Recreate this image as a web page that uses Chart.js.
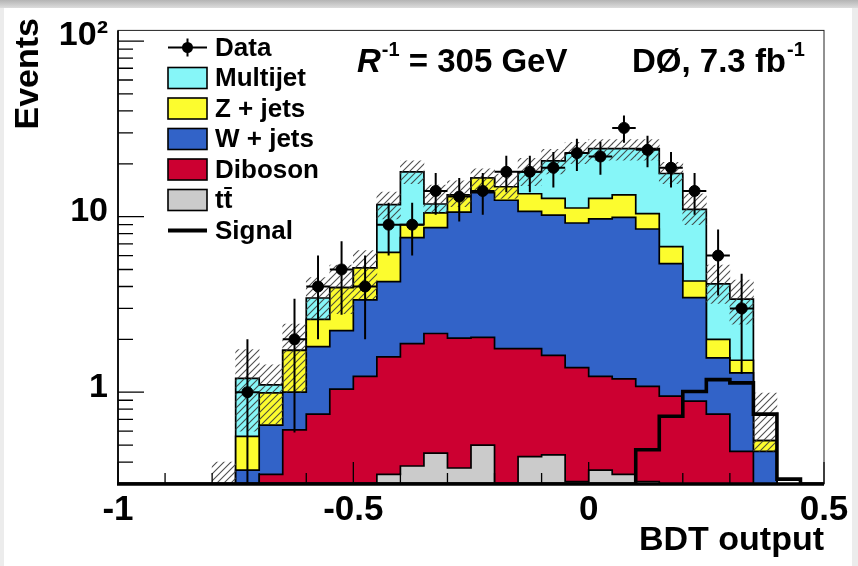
<!DOCTYPE html>
<html>
<head>
<meta charset="utf-8">
<title>BDT output</title>
<script src="https://cdn.jsdelivr.net/npm/chart.js@4.4.1/dist/chart.umd.min.js"></script>
<style>
  body { margin: 0; background: #fff; }
  canvas { display: block; }
</style>
</head>
<body>
<canvas id="myChart" width="858" height="566"></canvas>
<script>
// 30 bins of 0.05 between -1 and 0.5
const binLow = -1
const binWidth = 0.05
const nBins = 30

const ttbar    = [0,0,0,0,0, 0,0,0,0,0, 0,0.34,0.38,0.45,0.37, 0.50,0,0.43,0.44,0.31, 0.36,0.34,0.31,0,0, 0,0,0,0,0]
const diboson  = [0,0,0,0,0, 0,0.34,0.61,0.75,1.04, 1.23,1.25,1.51,1.71,1.66, 1.55,1.77,1.34,1.18,1.07, 0.87,0.85,0.77,0.95,0.89, 0.75,0.46,0,0,0]
const wjets    = [0,0,0,0,0, 0.36,0.31,0.39,1.07,1.20, 2.13,2.67,5.71,6.49,8.57, 11.65,10.63,8.93,8.58,7.82, 8.47,8.71,7.42,4.45,2.57, 0.82,0.83,0.46,0,0]
const zjets    = [0,0,0,0,0, 0.20,0.34,0.73,0.78,1.70, 1.74,1.99,1.40,1.85,2.70, 2.90,2.40,2.80,2.50,2.00, 3.00,3.40,1.90,1.35,0.84, 0.43,0.23,0.07,0,0]
const multijet = [0,0,0,0,0, 0.64,0.11,0,0.84,0, 0,5.45,9.0,1.3,0, 0,0,4.5,8.1,11.8, 11.7,11.1,14.0,10.85,6.7, 2.14,1.87,0,0,0]
const signal   = [0,0,0,0,0, 0,0,0,0,0, 0,0,0,0,0, 0,0,0,0,0, 0,0,0.47,0.73,1.01, 1.18,1.13,0.75,0.32,0]

const dataCounts = [0,0,0,0,0, 1,0,2,4,5, 4,9,9,14,13, 14,18,18,19,23, 22,32,24,19,14, 6,3,0,0,0]
const dataErr    = [0,0,0,0,0, 1,0,1.41,2,2.24, 2,3,3,3.74,3.61, 3.74,4.24,4.24,4.36,4.8, 4.69,5.66,4.9,4.36,3.74, 2.45,1.73,0,0,0]

// MC uncertainty band (low, high), null where none
const mcLow  = [null,null,null,null,0.2, 0.6,0.66,1.0,2.6,2.8, 3.4,9.7,15.4,10.5,11.4, 14.1,12.7,15,17.5,20, 21,21,21,15.4,9, 3.2,2.44,0.46,null,null]
const mcHigh = [null,null,null,null,0.4, 1.75,1.43,2.44,4.5,5.3, 6.4,13.8,20.8,15.1,16.0, 18.7,17.5,21.5,24.2,26.5, 27.5,27.5,27.5,20.4,13.5, 5.3,4.35,0.99,null,null]

const xTicks = [-1, -0.5, 0, 0.5]
const xTickLabels = ['-1', '-0.5', '0', '0.5']
const yTicks = [1, 10, 100]
const yTickLabels = ['1', '10', '10²']
const yMin = 0.3
const yMax = 115

const legendLabels = ['Data', 'Multijet', 'Z + jets', 'W + jets', 'Diboson', 'tt', 'Signal']

const colors = {
  multijet: '#86f6f8',
  zjets: '#fcfc2e',
  wjets: '#3263c8',
  diboson: '#cc0031',
  ttbar: '#cbcbcb'
}

const fontFam = "'Liberation Sans', Arial, sans-serif"
Chart.defaults.font.family = fontFam
Chart.defaults.color = '#000'

function binCenter(i) {
  return binLow + binWidth * (i + 0.5)
}

// points on the bin edges for a stepped outline, last value repeated on the right edge
function stepPoints(values) {
  let pts = []
  values.forEach((v, i) => {
    pts.push({ x: binLow + binWidth * i, y: Math.max(v, yMin) })
  })
  pts.push({ x: binLow + binWidth * nBins, y: Math.max(values[nBins - 1], yMin) })
  return pts
}

function addUp(a, b) {
  return a.map((v, i) => v + b[i])
}

// cumulative stack, drawn as overlapping filled histograms like ROOT does
const topTT = ttbar
const topDib = addUp(topTT, diboson)
const topW = addUp(topDib, wjets)
const topZ = addUp(topW, zjets)
const topMJ = addUp(topZ, multijet)

function histLayer(label, values, color, order) {
  return {
    type: 'line',
    label: label,
    data: stepPoints(values),
    stepped: 'before',
    backgroundColor: color,
    borderColor: '#000',
    borderWidth: 1.7,
    fill: 'start',
    pointRadius: 0,
    order: order
  }
}

// hatch pattern for the uncertainty band
function hatchPattern() {
  const c = document.createElement('canvas')
  c.width = 7
  c.height = 7
  const g = c.getContext('2d')
  g.strokeStyle = 'rgba(60,60,60,0.9)'
  g.lineWidth = 1.1
  g.beginPath()
  g.moveTo(-1, 8); g.lineTo(8, -1)
  g.moveTo(-1, 1); g.lineTo(1, -1)
  g.moveTo(6, 8); g.lineTo(8, 6)
  g.stroke()
  return g.createPattern(c, 'repeat')
}

let bandData = []
mcLow.forEach((lo, i) => {
  if (lo !== null) bandData.push({ x: binCenter(i), y: [lo, mcHigh[i]] })
})

const frame = {
  id: 'frame',
  beforeDraw(chart) {
    const ctx = chart.ctx
    ctx.save()
    ctx.fillStyle = '#fff'
    ctx.fillRect(0, 0, chart.width, chart.height)
    // grey border of the original figure
    let g = ctx.createLinearGradient(0, 0, 0, 8)
    g.addColorStop(0, '#b4b4b4')
    g.addColorStop(1, '#dcdcdc')
    ctx.fillStyle = g
    ctx.fillRect(0, 0, chart.width, 8)
    ctx.fillStyle = '#ececec'
    ctx.fillRect(0, 8, 4, chart.height)
    ctx.fillRect(chart.width - 6, 8, 6, chart.height)
    ctx.restore()
  },
  afterDatasetsDraw(chart) {
    const { ctx, chartArea: a, scales: { x, y } } = chart
    ctx.save()

    // error bars of the data
    ctx.beginPath()
    ctx.rect(a.left, a.top, a.right - a.left, a.bottom - a.top)
    ctx.clip()
    ctx.strokeStyle = '#000'
    ctx.lineWidth = 2
    dataCounts.forEach((n, i) => {
      if (n <= 0) return
      const px = x.getPixelForValue(binCenter(i))
      const py = y.getPixelForValue(n)
      const lo = n - dataErr[i]
      const pLo = lo > 0 ? y.getPixelForValue(lo) : a.bottom
      const pHi = y.getPixelForValue(n + dataErr[i])
      ctx.beginPath()
      ctx.moveTo(px, pHi)
      ctx.lineTo(px, pLo)
      ctx.moveTo(x.getPixelForValue(binCenter(i) - binWidth / 2), py)
      ctx.lineTo(x.getPixelForValue(binCenter(i) + binWidth / 2), py)
      ctx.stroke()
    })
    ctx.restore()

    ctx.save()
    ctx.strokeStyle = '#000'
    // inward ticks on the y axis
    ctx.lineWidth = 1.3
    ctx.beginPath()
    ;[0.1, 1, 10].forEach(d => {
      for (let k = 2; k <= 9; k++) {
        const v = k * d
        if (v < yMin || v > yMax) continue
        const py = y.getPixelForValue(v)
        ctx.moveTo(a.left, py)
        ctx.lineTo(a.left + 15, py)
      }
    })
    yTicks.forEach(v => {
      const py = y.getPixelForValue(v)
      ctx.moveTo(a.left, py)
      ctx.lineTo(a.left + 26, py)
    })
    // inward ticks on the x axis
    for (let k = -10; k <= 5; k++) {
      const px = x.getPixelForValue(k / 10)
      ctx.moveTo(px, a.bottom)
      ctx.lineTo(px, a.bottom - 11)
    }
    xTicks.forEach(v => {
      const px = x.getPixelForValue(v)
      ctx.moveTo(px, a.bottom)
      ctx.lineTo(px, a.bottom - 22)
    })
    ctx.stroke()

    // frame
    ctx.lineWidth = 1
    ctx.strokeStyle = '#222'
    ctx.strokeRect(a.left, a.top, a.right - a.left, a.bottom - a.top)
    ctx.strokeStyle = '#000'
    ctx.lineWidth = 1.7
    ctx.beginPath()
    ctx.moveTo(a.left, a.top)
    ctx.lineTo(a.left, a.bottom)
    ctx.stroke()
    ctx.lineWidth = 3.5
    ctx.beginPath()
    ctx.moveTo(a.left - 1, a.bottom)
    ctx.lineTo(a.right, a.bottom)
    ctx.stroke()
    ctx.restore()
  }
}

const texts = {
  id: 'texts',
  afterDraw(chart) {
    const ctx = chart.ctx
    ctx.save()
    ctx.fillStyle = '#000'
    ctx.textBaseline = 'alphabetic'

    // header
    const big = 'bold 33px ' + fontFam
    const sup = 'bold 20px ' + fontFam
    let cx = 357
    ctx.font = 'italic bold 33px ' + fontFam
    ctx.fillText('R', cx, 72)
    cx += ctx.measureText('R').width + 1
    ctx.font = sup
    ctx.fillText('-1', cx, 56)
    cx += ctx.measureText('-1').width
    ctx.font = big
    ctx.fillText(' = 305 GeV', cx, 72)

    cx = 632
    ctx.fillText('DØ, 7.3 fb', cx, 72)
    cx += ctx.measureText('DØ, 7.3 fb').width + 1
    ctx.font = sup
    ctx.fillText('-1', cx, 56)

    // y axis title
    ctx.save()
    ctx.font = 'bold 34px ' + fontFam
    ctx.translate(29, 18)
    ctx.rotate(-Math.PI / 2)
    ctx.textAlign = 'right'
    ctx.textBaseline = 'middle'
    ctx.fillText('Events', 0, 0)
    ctx.restore()

    // legend
    const bx = 168, bw = 39, bh = 21, tx = 215
    const boxColors = [null, colors.multijet, colors.zjets, colors.wjets, colors.diboson, colors.ttbar]
    ctx.font = 'bold 26px ' + fontFam
    legendLabels.forEach((label, i) => {
      const cy = 47.5 + i * 30.5
      ctx.strokeStyle = '#000'
      if (i === 0) {
        ctx.lineWidth = 2
        ctx.beginPath()
        ctx.moveTo(bx, cy); ctx.lineTo(bx + bw, cy)
        ctx.moveTo(bx + bw / 2, cy - 9); ctx.lineTo(bx + bw / 2, cy + 9)
        ctx.stroke()
        ctx.beginPath()
        ctx.arc(bx + bw / 2, cy, 5.5, 0, Math.PI * 2)
        ctx.fill()
      } else if (i === legendLabels.length - 1) {
        ctx.lineWidth = 4
        ctx.beginPath()
        ctx.moveTo(bx, cy); ctx.lineTo(bx + bw, cy)
        ctx.stroke()
      } else {
        ctx.fillStyle = boxColors[i]
        ctx.fillRect(bx, cy - bh / 2, bw, bh)
        ctx.lineWidth = 1.6
        ctx.strokeRect(bx, cy - bh / 2, bw, bh)
        ctx.fillStyle = '#000'
      }
      ctx.textBaseline = 'middle'
      ctx.fillText(label, tx, cy + 1)
      if (label === 'tt') {
        // bar over the second t
        const tw = ctx.measureText('t').width
        ctx.lineWidth = 2
        ctx.beginPath()
        ctx.moveTo(tx + tw + 0.5, cy - 12)
        ctx.lineTo(tx + 2 * tw - 0.5, cy - 12)
        ctx.stroke()
      }
    })
    ctx.restore()
  }
}

const ctx = document.getElementById('myChart')

new Chart(ctx, {
  type: 'line',
  data: {
    datasets: [
      {
        type: 'line',
        label: 'Data',
        data: dataCounts.map((n, i) => ({ x: binCenter(i), y: n })),
        showLine: false,
        pointRadius: 5.5,
        pointBackgroundColor: '#000',
        pointBorderColor: '#000',
        order: 0
      },
      {
        type: 'line',
        label: 'Signal',
        data: stepPoints(signal),
        stepped: 'before',
        borderColor: '#000',
        borderWidth: 3.6,
        fill: false,
        pointRadius: 0,
        order: 1
      },
      {
        type: 'bar',
        label: 'Uncertainty',
        data: bandData,
        backgroundColor: hatchPattern(),
        borderWidth: 0,
        barPercentage: 1,
        categoryPercentage: 1,
        order: 2
      },
      histLayer('tt', topTT, colors.ttbar, 3),
      histLayer('Diboson', topDib, colors.diboson, 4),
      histLayer('W + jets', topW, colors.wjets, 5),
      histLayer('Z + jets', topZ, colors.zjets, 6),
      histLayer('Multijet', topMJ, colors.multijet, 7)
    ]
  },
  options: {
    responsive: false,
    animation: false,
    layout: { padding: { top: 20, right: 34, left: 0, bottom: 0 } },
    plugins: {
      legend: { display: false },
      tooltip: { enabled: false }
    },
    scales: {
      x: {
        type: 'linear',
        min: -1,
        max: 0.5,
        offset: false,
        grid: { display: false, drawTicks: false, offset: false },
        border: { display: false },
        ticks: {
          padding: 5,
          autoSkip: false,
          maxRotation: 0,
          font: { size: 35, weight: 'bold' },
          callback: (v, i) => xTickLabels[i]
        },
        afterBuildTicks: (s) => { s.ticks = xTicks.map(v => ({ value: v })) },
        afterFit: (s) => { s.height = 82 },
        title: {
          display: true,
          text: 'BDT output',
          align: 'end',
          font: { size: 34, weight: 'bold' },
          padding: { top: 0, bottom: 5 }
        }
      },
      y: {
        type: 'logarithmic',
        min: yMin,
        max: yMax,
        grid: { display: false, drawTicks: false },
        border: { display: false },
        ticks: {
          padding: 10,
          autoSkip: false,
          labelOffset: -5,
          font: { size: 34, weight: 'bold' },
          callback: (v, i) => yTickLabels[i]
        },
        afterBuildTicks: (s) => { s.ticks = yTicks.map(v => ({ value: v })) },
        afterFit: (s) => { s.width = 118 },
        title: { display: false }
      }
    }
  },
  plugins: [frame, texts]
})
</script>
</body>
</html>
